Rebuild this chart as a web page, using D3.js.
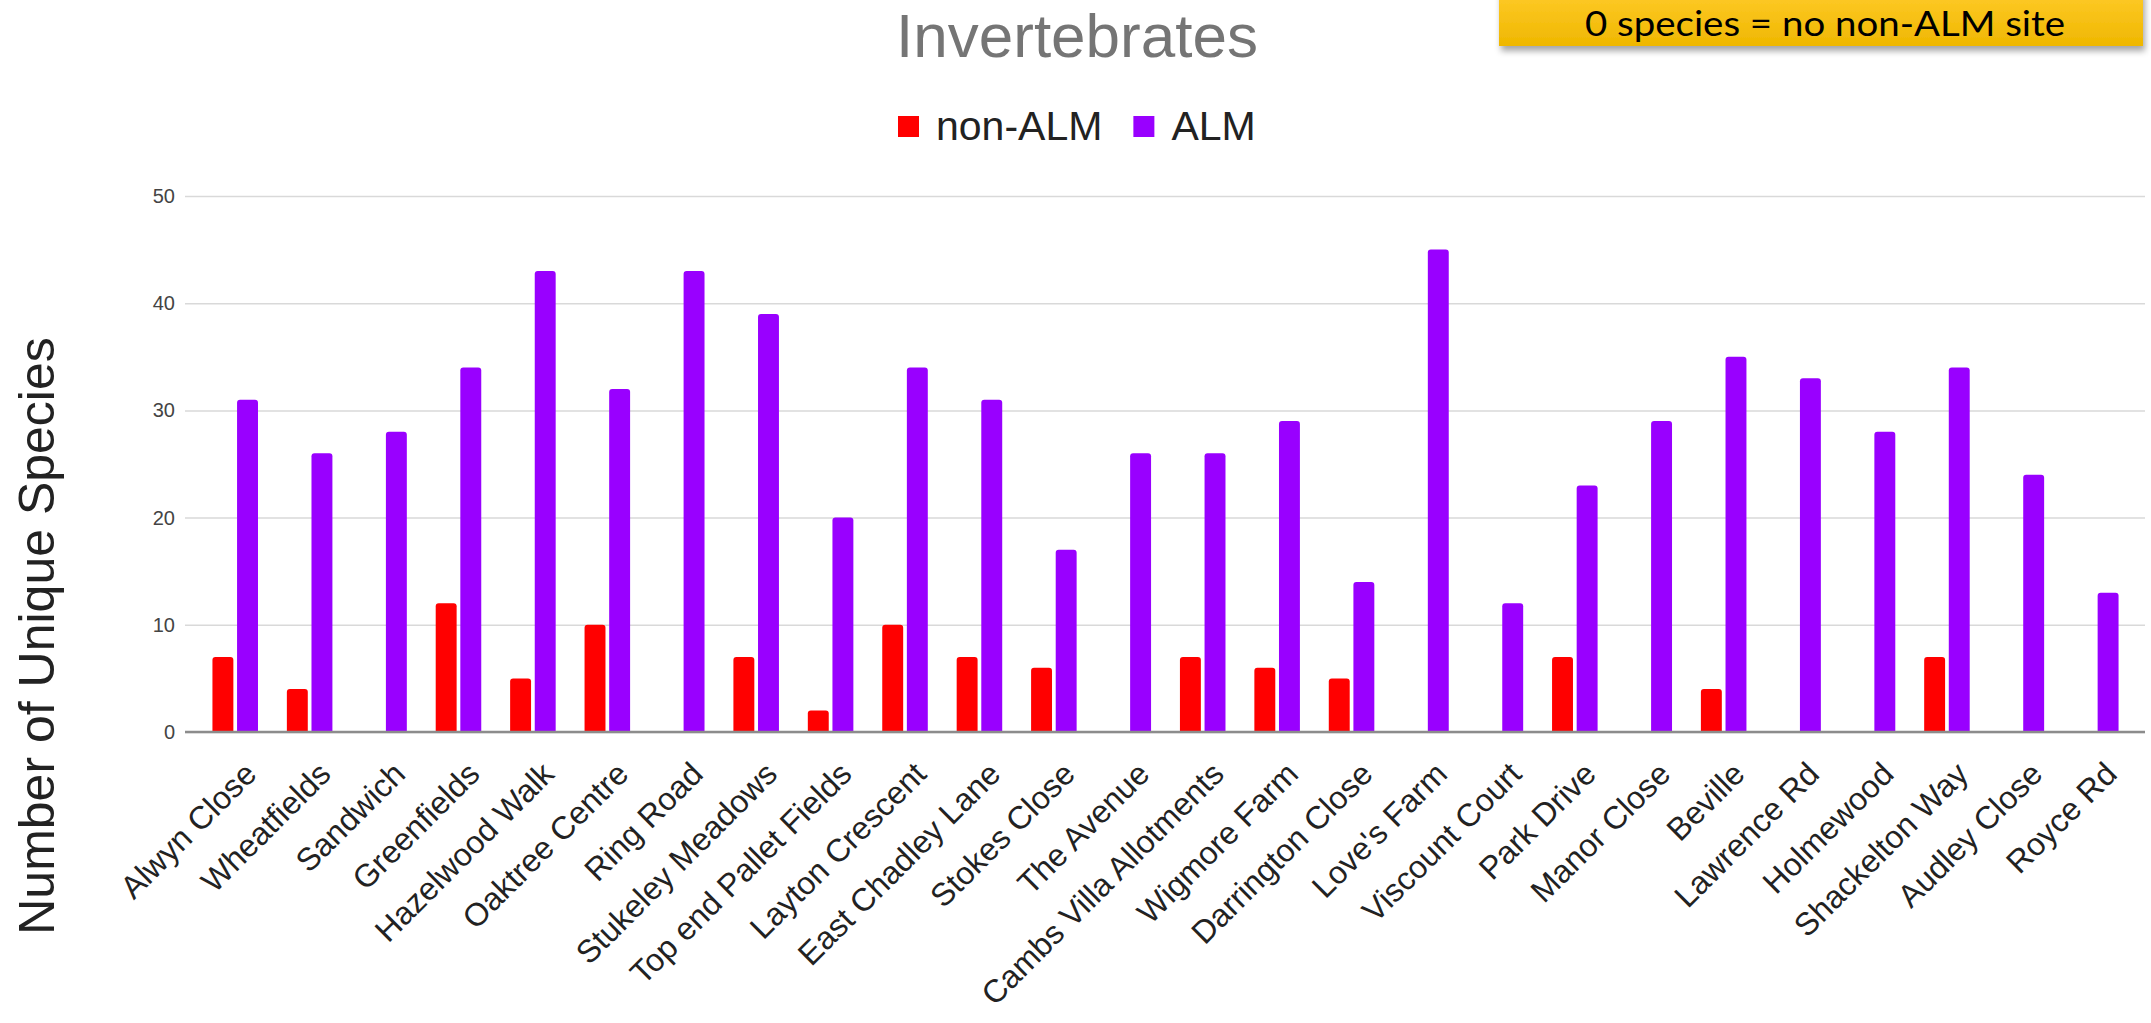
<!DOCTYPE html>
<html>
<head>
<meta charset="utf-8">
<script src="https://cdn.jsdelivr.net/npm/d3@7"></script>
<style>
  body { margin: 0; background: #fff; }
  text { font-family: Arial, "Liberation Sans", sans-serif; }
</style>
</head>
<body>
<div id="chart"></div>
<script>
// site names along the x axis
var sites = ["Alwyn Close", "Wheatfields", "Sandwich", "Greenfields", "Hazelwood Walk",
  "Oaktree Centre", "Ring Road", "Stukeley Meadows", "Top end Pallet Fields",
  "Layton Crescent", "East Chadley Lane", "Stokes Close", "The Avenue",
  "Cambs Villa Allotments", "Wigmore Farm", "Darrington Close", "Love's Farm",
  "Viscount Court", "Park Drive", "Manor Close", "Beville", "Lawrence Rd",
  "Holmewood", "Shackelton Way", "Audley Close", "Royce Rd"];

// unique species counts
var nonAlm = [7, 4, 0, 12, 5, 10, 0, 7, 2, 10, 7, 6, 0, 7, 6, 5, 0, 0, 7, 0, 4, 0, 0, 7, 0, 0];
var alm    = [31, 26, 28, 34, 43, 32, 43, 39, 20, 34, 31, 17, 26, 26, 29, 14, 45, 12, 23, 29, 35, 33, 28, 34, 24, 13];

var seriesNames  = ["non-ALM", "ALM"];
var seriesColors = ["#ff0000", "#9900ff"];
var yTicks = [0, 10, 20, 30, 40, 50];

var chartTitle = "Invertebrates";
var yTitle = "Number of Unique Species";
var noteText = "0 species = no non-ALM site";

var width = 2151, height = 1023;
var plot = { left: 185, right: 2145, top: 196, bottom: 732 };

var svg = d3.select("#chart").append("svg")
    .attr("width", width)
    .attr("height", height);

svg.append("rect")
    .attr("width", width)
    .attr("height", height)
    .attr("fill", "#fff");

var x0 = d3.scaleBand()
    .domain(sites)
    .range([plot.left + 13, plot.right - 12])
    .paddingInner(0.388)
    .paddingOuter(0.194);

var x1 = d3.scaleBand()
    .domain(seriesNames)
    .range([0, x0.bandwidth()])
    .paddingInner(0.15);

var y = d3.scaleLinear()
    .domain([0, 50])
    .range([plot.bottom, plot.top]);

var color = d3.scaleOrdinal().domain(seriesNames).range(seriesColors);

// gridlines + y tick labels
var yAxis = svg.append("g")
    .attr("transform", "translate(" + plot.left + ",0)")
    .call(d3.axisLeft(y).tickValues(yTicks).tickSize(-(plot.right - plot.left)).tickPadding(10));

yAxis.select(".domain").remove();
yAxis.selectAll(".tick line")
    .attr("stroke", "#d9d9d9")
    .attr("stroke-width", 1.5);
yAxis.selectAll(".tick text")
    .attr("fill", "#444")
    .style("font-size", "20px")
    .style("font-family", "Arial, 'Liberation Sans', sans-serif");

// bars
function topRounded(x, yy, w, h, r) {
  r = Math.min(r, h, w / 2);
  return "M" + x + "," + (yy + h) +
    "V" + (yy + r) +
    "Q" + x + "," + yy + " " + (x + r) + "," + yy +
    "H" + (x + w - r) +
    "Q" + (x + w) + "," + yy + " " + (x + w) + "," + (yy + r) +
    "V" + (yy + h) + "Z";
}

var rows = sites.map(function(s, i) {
  return { site: s, values: [{ key: "non-ALM", v: nonAlm[i] }, { key: "ALM", v: alm[i] }] };
});

svg.append("g").selectAll("g")
    .data(rows)
    .enter().append("g")
    .attr("transform", function(d) { return "translate(" + x0(d.site) + ",0)"; })
    .selectAll("path")
    .data(function(d) { return d.values.filter(function(v) { return v.v > 0; }); })
    .enter().append("path")
    .attr("fill", function(d) { return color(d.key); })
    .attr("d", function(d) {
      return topRounded(x1(d.key), y(d.v), x1.bandwidth(), y(0) - y(d.v), 3);
    });

// baseline
svg.append("line")
    .attr("x1", plot.left)
    .attr("x2", plot.right)
    .attr("y1", y(0))
    .attr("y2", y(0))
    .attr("stroke", "#8c8c8c")
    .attr("stroke-width", 2.5);

// x axis labels
var xAxis = svg.append("g")
    .attr("transform", "translate(0," + plot.bottom + ")")
    .call(d3.axisBottom(x0).tickSize(0));

xAxis.select(".domain").remove();
xAxis.selectAll(".tick text")
    .attr("x", 0)
    .attr("y", 0)
    .attr("dy", 0)
    .attr("text-anchor", "end")
    .attr("transform", "translate(23,44) rotate(-45)")
    .attr("fill", "#222")
    .style("font-size", "32px")
    .style("font-family", "Arial, 'Liberation Sans', sans-serif");

// title
svg.append("text")
    .attr("x", 1077)
    .attr("y", 57)
    .attr("text-anchor", "middle")
    .attr("fill", "#757575")
    .style("font-size", "62px")
    .text(chartTitle);

// legend
var legend = svg.append("g").attr("class", "legend");
var lx = 898;
seriesNames.forEach(function(name) {
  legend.append("rect")
      .attr("x", lx)
      .attr("y", 116)
      .attr("width", 21)
      .attr("height", 21)
      .attr("fill", color(name));
  var t = legend.append("text")
      .attr("x", lx + 38)
      .attr("y", 140)
      .attr("fill", "#222")
      .style("font-size", "41px")
      .text(name);
  lx = lx + 38 + t.node().getComputedTextLength() + 31;
});

// y axis title
svg.append("text")
    .attr("transform", "translate(54,636) rotate(-90)")
    .attr("text-anchor", "middle")
    .attr("fill", "#222")
    .style("font-size", "50px")
    .text(yTitle);

// note box
var defs = svg.append("defs");
var grad = defs.append("linearGradient")
    .attr("id", "noteGrad")
    .attr("x1", 0).attr("y1", 0)
    .attr("x2", 0).attr("y2", 1);
grad.append("stop").attr("offset", "0%").attr("stop-color", "#ffcb2a");
grad.append("stop").attr("offset", "100%").attr("stop-color", "#efb700");

var shadow = defs.append("filter")
    .attr("id", "noteShadow")
    .attr("x", "-10%").attr("y", "-30%")
    .attr("width", "120%").attr("height", "170%");
shadow.append("feDropShadow")
    .attr("dx", 2)
    .attr("dy", 5)
    .attr("stdDeviation", 3)
    .attr("flood-color", "#000")
    .attr("flood-opacity", 0.35);

svg.append("rect")
    .attr("x", 1499)
    .attr("y", -10)
    .attr("width", 644)
    .attr("height", 56)
    .attr("fill", "url(#noteGrad)")
    .attr("filter", "url(#noteShadow)");

svg.append("text")
    .attr("x", 1825)
    .attr("y", 36)
    .attr("text-anchor", "middle")
    .attr("fill", "#000")
    .attr("textLength", 480)
    .attr("lengthAdjust", "spacingAndGlyphs")
    .style("font-family", "Lato, 'Open Sans', sans-serif")
    .style("font-size", "35px")
    .text(noteText);
</script>
</body>
</html>
